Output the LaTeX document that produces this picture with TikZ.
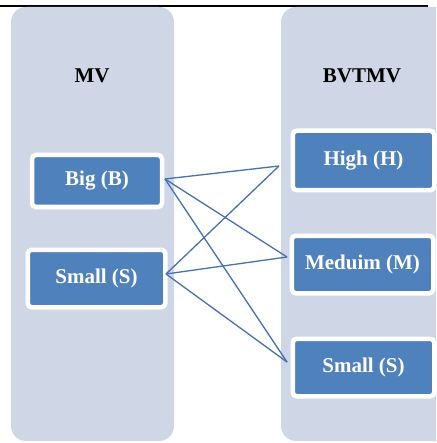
\documentclass[tikz,border=0pt]{standalone}
\usepackage{fontspec}
\setmainfont{Liberation Serif}
\definecolor{colfill}{RGB}{207,214,230}
\definecolor{boxblue}{RGB}{79,129,189}
\definecolor{linkblue}{RGB}{70,114,176}
\begin{document}
\begin{tikzpicture}[x=1pt,y=-1pt,
  column/.style={fill=colfill,rounded corners=15pt},
  itembox/.style={rectangle,draw=white,line width=4.5pt,fill=boxblue,rounded corners=4pt,
    text=white,font=\fontsize{21}{24}\selectfont\bfseries,inner sep=0pt},
  title/.style={font=\fontsize{21}{24}\selectfont\bfseries,text=black},
  link/.style={draw=linkblue,line width=1.3pt}]
\useasboundingbox (0,0) rectangle (436,443);
\clip (0,0) rectangle (436,443);
\draw[line width=1.3pt] (0,6) -- (428,6);
\fill[column] (11,7) rectangle (174,441);
\fill[column] (281,7) rectangle (470,441);
\node[title] (mv) at (92,76) {MV};
\node[title] (bvtmv) at (362,76) {BVTMV};
\node[itembox,minimum width=130pt,minimum height=52pt] (big) at (97,181) {Big (B)};
\node[itembox,minimum width=137.5pt,minimum height=57.5pt] (smallL) at (96.5,278.5) {Small (S)};
\node[itembox,minimum width=141.5pt,minimum height=59.5pt] (high) at (363.5,160.5) {High (H)};
\node[itembox,minimum width=141.5pt,minimum height=57.5pt] (med) at (362.5,264.5) {Meduim (M)};
\node[itembox,minimum width=141.5pt,minimum height=57.5pt] (smallR) at (363.5,367.5) {Small (S)};
\coordinate (bR) at (165,179);
\coordinate (sR) at (166,274);
\coordinate (hL) at (279,166);
\coordinate (mL) at (287,257);
\coordinate (srL) at (287,362);
\draw[link] (bR) -- (hL);
\draw[link] (bR) -- (mL);
\draw[link] (bR) -- (srL);
\draw[link] (sR) -- (hL);
\draw[link] (sR) -- (mL);
\draw[link] (sR) -- (srL);
\end{tikzpicture}
\end{document}
